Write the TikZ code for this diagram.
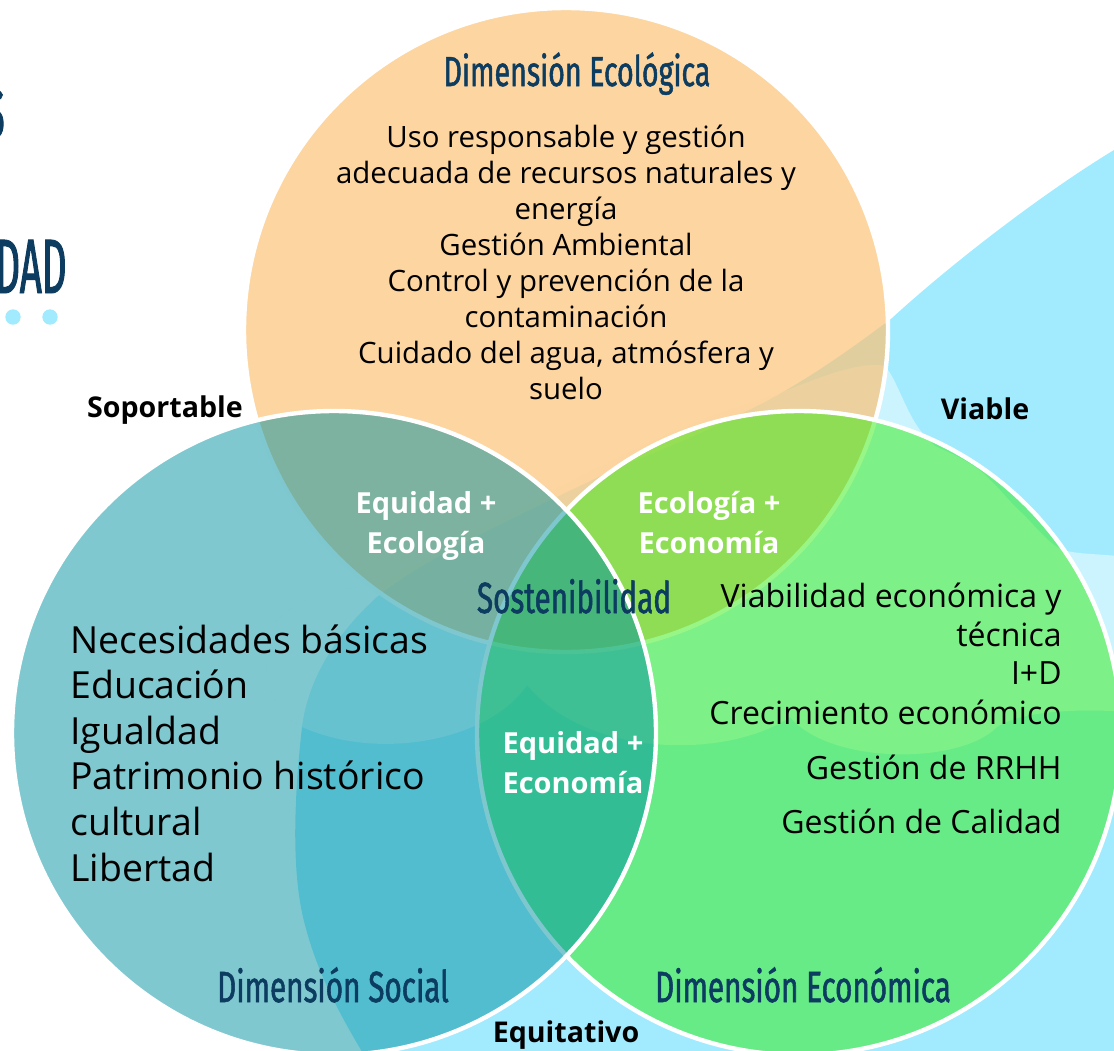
\documentclass[tikz,border=0pt]{standalone}
\usepackage{fontspec}
\setmainfont{Open Sans}
\newfontfamily\headfont[FakeStretch=0.68,FakeBold=1.2]{Fira Sans}
\newfontfamily\titlefont[FakeStretch=0.5,FakeBold=1.2]{Fira Sans}
\definecolor{navy}{RGB}{12,60,96}
\definecolor{blobblue}{RGB}{162,235,255}
\definecolor{ecofill}{RGB}{251,195,119}
\definecolor{econfill}{RGB}{37,236,0}
\definecolor{socfill}{RGB}{1,145,161}
\tikzset{
  ring/.style={draw=white, line width=2.2pt},
  bodytxt/.style={inner sep=0pt, text=black},
  ecotxt/.style={bodytxt, font=\fontsize{14.7}{18}\selectfont, anchor=base},
  soctxt/.style={bodytxt, font=\fontsize{18.7}{22}\selectfont, anchor=base west},
  ecntxt/.style={bodytxt, font=\fontsize{16}{19}\selectfont, anchor=base east},
  headtxt/.style={inner sep=0pt, text=navy, font=\headfont\fontsize{21.8}{26}\selectfont, anchor=base},
  tagtxt/.style={inner sep=0pt, text=black, font=\bfseries\fontsize{14.3}{17}\selectfont, anchor=base},
  lenstxt/.style={inner sep=0pt, text=white, font=\bfseries\fontsize{14.5}{17}\selectfont, anchor=base},
}
\begin{document}
\begin{tikzpicture}[x=0.5pt,y=-0.5pt]
\useasboundingbox (0,0) rectangle (1114,1050);
\clip (0,0) rectangle (1114,1050);
% background blob
\fill[blobblue] (1130,135) -- (1114,150) .. controls (1040,195) and (950,265) .. (892,318)
  .. controls (850,350) and (800,385) .. (753,408)
  .. controls (700,435) and (660,450) .. (617,468)
  .. controls (520,515) and (420,560) .. (377,597)
  .. controls (335,635) and (308,680) .. (302,727)
  .. controls (295,790) and (290,870) .. (305,925)
  .. controls (318,975) and (340,1015) .. (367,1060)
  -- (1130,1060) -- cycle;
% lighter bubbles
\fill[white, opacity=0.46]
  (377,585) .. controls (460,540) and (540,495) .. (617,458)
  .. controls (670,432) and (710,415) .. (753,402)
  .. controls (800,388) and (850,360) .. (885,366)
  .. controls (897,380) and (905,410) .. (920,430)
  .. controls (926,437) and (930,442) .. (935,446)
  .. controls (955,455) and (970,462) .. (983,473)
  .. controls (1000,488) and (1010,503) .. (1023,514)
  .. controls (1037,528) and (1050,545) .. (1063,550)
  .. controls (1075,554) and (1100,554) .. (1130,557)
  -- (1130,712)
  .. controls (1070,708) and (1020,712) .. (997,727)
  .. controls (960,765) and (830,765) .. (790,717)
  .. controls (730,758) and (590,760) .. (527,685)
  .. controls (490,740) and (380,762) .. (302,727)
  .. controls (280,717) and (265,690) .. (265,650)
  .. controls (265,610) and (320,590) .. (377,585) -- cycle;
% title fragments
\node[inner sep=0pt, text=navy, font=\titlefont\fontsize{34}{38}\selectfont, anchor=base east] (ttlS) at (5,137) {S};
\node[inner sep=0pt, text=navy, font=\titlefont\fontsize{38.5}{44}\selectfont, anchor=base east] (ttlD) at (67,293) {DAD};
\fill[blobblue] (13,317) circle[radius=7.7];
\fill[blobblue] (50,317) circle[radius=7.7];
% circles
\draw[ring, fill=ecofill, fill opacity=0.7] (566,330) circle[radius=322];
\draw[ring, fill=econfill, fill opacity=0.47] (799,733) circle[radius=322];
\draw[ring, fill=socfill, fill opacity=0.5] (334,733) circle[radius=322];
% ecological text
\foreach \txt [count=\i from 0] in {Uso responsable y gestión, adecuada de recursos naturales y, energía, Gestión Ambiental, Control y prevención de la, contaminación, {Cuidado del agua, atmósfera y}, suelo}
  \node[ecotxt] (eco\i) at (566,{147+36*\i}) {\txt};
% social text
\foreach \txt [count=\i from 0] in {Necesidades básicas, Educación, Igualdad, Patrimonio histórico, cultural, Libertad}
  \node[soctxt] (soc\i) at (70,{653+45.6*\i}) {\txt};
% economic text
\node[ecntxt] (ecn0) at (1062,607) {Viabilidad económica y};
\node[ecntxt] (ecn1) at (1062,646) {técnica};
\node[ecntxt] (ecn2) at (1062,684) {I+D};
\node[ecntxt] (ecn3) at (1062,724) {Crecimiento económico};
\node[ecntxt] (ecn4) at (1062,779) {Gestión de RRHH};
\node[ecntxt] (ecn5) at (1062,833) {Gestión de Calidad};
% headings
\node[headtxt, font=\headfont\fontsize{21}{25}\selectfont] (hEco) at (577,86) {Dimensión Ecológica};
\node[headtxt] (hSost) at (574,613) {Sostenibilidad};
\node[headtxt] (hSoc) at (333,1002) {Dimensión Social};
\node[headtxt] (hEcn) at (803,1002) {Dimensión Económica};
% tags
\node[tagtxt] (tSop) at (165,417) {Soportable};
\node[tagtxt] (tVia) at (985,419) {Viable};
\node[tagtxt] (tEqu) at (566,1042) {Equitativo};
% lens labels
\node[lenstxt] (l1a) at (426,513) {Equidad +};
\node[lenstxt] (l1b) at (426,553) {Ecología};
\node[lenstxt] (l2a) at (709,513) {Ecología +};
\node[lenstxt] (l2b) at (709,553) {Economía};
\node[lenstxt] (l3a) at (573,753) {Equidad +};
\node[lenstxt] (l3b) at (573,793) {Economía};
\end{tikzpicture}
\end{document}
